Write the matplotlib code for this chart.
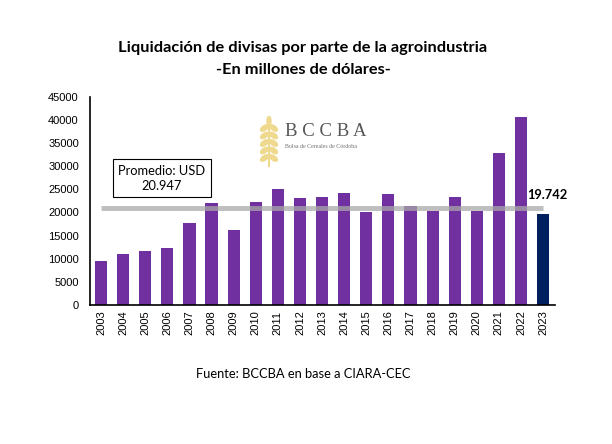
import numpy as np
import matplotlib.pyplot as plt
from matplotlib.patches import Ellipse

years = [str(y) for y in range(2003, 2024)]
valores = [9500, 11000, 11700, 12300, 17700, 22000, 16200, 22300, 25100, 23100,
           23400, 24200, 20100, 24000, 21400, 20300, 23400, 20300, 32900, 40700, 19742]
promedio = 20947

colores = ['#7030A0'] * (len(years) - 1) + ['#002060']

fig = plt.figure(figsize=(6.12, 4.44), dpi=100)
ax = fig.add_axes([0.147, 0.313, 0.76, 0.469])

x = np.arange(len(years))
ax.bar(x, valores, width=0.55, color=colores, zorder=2)
ax.hlines(promedio, 0, len(years) - 1, color='#A8A8A8', lw=3.5, alpha=0.75, zorder=3)

ax.set_xlim(-0.5, len(years) - 0.46)
ax.set_ylim(0, 45000)
ax.set_yticks(range(0, 45001, 5000))
ax.set_xticks(x)
ax.set_xticklabels(years, rotation=90, fontsize=8, family='Liberation Sans')
for t in ax.get_yticklabels():
    t.set_family('Liberation Sans')
ax.tick_params(axis='y', labelsize=8, length=0, pad=8)
ax.tick_params(axis='x', length=0, pad=4)
ax.spines['top'].set_visible(False)
ax.spines['right'].set_visible(False)
ax.spines['left'].set_linewidth(1.2)
ax.spines['bottom'].set_linewidth(1.2)

ax.text(2.76, 27400, 'Promedio: USD\n20.947', fontsize=9.3, family='Lato',
        ha='center', va='center', linespacing=1.3,
        bbox=dict(boxstyle='square,pad=0.42', fc='white', ec='black', lw=0.8), zorder=4)
ax.text(20.2, 23800, '19.742', fontsize=9.3, fontweight='bold', family='Lato',
        ha='center', va='center', zorder=4)

# logo
ax.text(10.16, 37400, 'B C C B A', fontsize=13.5, family='Liberation Serif',
        color='#3a3a3a', ha='center', va='center', alpha=0.85)
ax.text(9.95, 34200, 'Bolsa de Cereales de Córdoba', fontsize=4.2,
        family='Liberation Serif', color='#555555', ha='center', va='center', alpha=0.85)

lax = fig.add_axes([258 / 612, 1 - 168 / 444, 22 / 612, 53 / 444])
lax.set_xlim(0, 22)
lax.set_ylim(0, 53)
lax.axis('off')
wheat = '#EED98F'
lax.plot([11, 11], [2, 44], color=wheat, lw=1.5)
for i in range(5):
    yy = 10 + i * 7.5
    lax.add_patch(Ellipse((6.5, yy), 9, 4.5, angle=35, color=wheat))
    lax.add_patch(Ellipse((15.5, yy), 9, 4.5, angle=-35, color=wheat))
lax.add_patch(Ellipse((11, 47), 4, 9, color=wheat))

fig.text(0.495, 0.893, 'Liquidación de divisas por parte de la agroindustria',
         fontsize=11.8, fontweight='bold', family='Lato', ha='center', va='center')
fig.text(0.495, 0.842, '-En millones de dólares-',
         fontsize=11.8, fontweight='bold', family='Lato', ha='center', va='center')
fig.text(0.495, 0.158, 'Fuente: BCCBA en base a CIARA-CEC',
         fontsize=9.3, family='Lato', ha='center', va='center')

fig.savefig('out.png', dpi=100)
